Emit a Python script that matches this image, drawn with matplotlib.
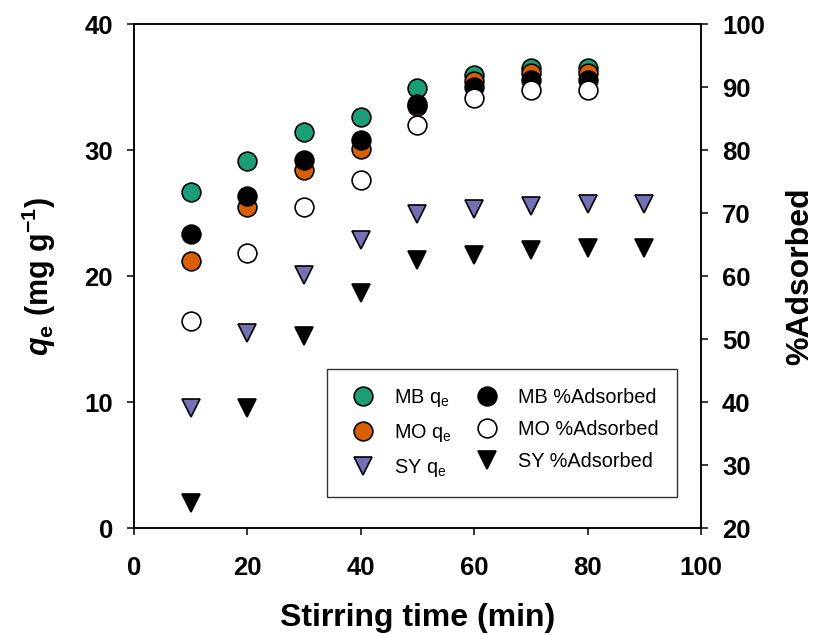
import matplotlib
matplotlib.use("Agg")
import matplotlib.pyplot as plt

plt.rcParams['font.family'] = ['Liberation Sans', 'DejaVu Sans']
plt.rcParams['mathtext.fontset'] = 'custom'
plt.rcParams['mathtext.rm'] = 'Liberation Sans'
plt.rcParams['mathtext.it'] = 'Liberation Sans:italic'
plt.rcParams['mathtext.bf'] = 'Liberation Sans:bold'
plt.rcParams['mathtext.bfit'] = 'Liberation Sans:bold:italic'

time_circ = [10, 20, 30, 40, 50, 60, 70, 80]
time_tri = [10, 20, 30, 40, 50, 60, 70, 80, 90]

mb_qe = [26.7, 29.1, 31.4, 32.6, 34.9, 36.0, 36.5, 36.5]
mo_qe = [21.2, 25.5, 28.4, 30.1, 33.5, 35.5, 36.1, 36.1]
sy_qe = [9.5, 15.5, 20.1, 22.9, 24.9, 25.3, 25.6, 25.7, 25.7]

mb_ads = [66.7, 72.7, 78.5, 81.6, 87.3, 90.0, 91.1, 91.1]
mo_ads = [52.9, 63.6, 71.0, 75.2, 84.0, 88.2, 89.6, 89.6]
sy_ads = [23.9, 39.0, 50.5, 57.3, 62.5, 63.4, 64.1, 64.4, 64.5]

c_green = '#1b9e77'
c_orange = '#d95f02'
c_purple = '#7570b3'

fig = plt.figure(figsize=(8.21, 6.35), dpi=100)
ax = fig.add_axes([0.163, 0.1685, 0.691, 0.7935])
ax2 = ax.twinx()

ms = 13.5
mew = 1.2
h1, = ax.plot(time_circ, mb_qe, 'o', color=c_green, mec='black', ms=ms, mew=mew, label='MB q$_\\mathregular{e}$')
h2, = ax.plot(time_circ, mo_qe, 'o', color=c_orange, mec='black', ms=ms, mew=mew, label='MO q$_\\mathregular{e}$')
h3, = ax.plot(time_tri, sy_qe, 'v', color=c_purple, mec='black', ms=ms, mew=mew, label='SY q$_\\mathregular{e}$')
h4, = ax2.plot(time_circ, mb_ads, 'o', color='black', mec='black', ms=ms, mew=mew, label='MB %Adsorbed')
h5, = ax2.plot(time_circ, mo_ads, 'o', color='white', mec='black', ms=ms, mew=mew, label='MO %Adsorbed')
h6, = ax2.plot(time_tri, sy_ads, 'v', color='black', mec='black', ms=ms, mew=mew, label='SY %Adsorbed')

ax.set_xlim(0, 100)
ax.set_ylim(0, 40)
ax2.set_ylim(20, 100)
ax.set_xticks([0, 20, 40, 60, 80, 100])
ax.set_yticks([0, 10, 20, 30, 40])
ax2.set_yticks([20, 30, 40, 50, 60, 70, 80, 90, 100])

for a in (ax, ax2):
    for s in a.spines.values():
        s.set_linewidth(1.1)
    a.tick_params(direction='out', length=5, width=1.1, labelsize=18.5, pad=10)
    for lab in a.get_xticklabels() + a.get_yticklabels():
        lab.set_fontweight('bold')
ax.tick_params(axis='x', pad=15)

ax.set_xlabel('Stirring time (min)', fontsize=23, fontweight='bold', labelpad=17)
ax.set_ylabel('$\\boldsymbol{q}_\\mathbf{e}$ (mg g$^\\mathbf{-1}$)', fontsize=22, fontweight='bold', labelpad=19)
ax2.set_ylabel('%Adsorbed', fontsize=23, fontweight='bold', rotation=90, labelpad=15)

leg = ax2.legend(handles=[h1, h2, h3, h4, h5, h6], ncol=2, loc='lower left',
                 bbox_to_anchor=(0.340, 0.0615, 0.617, 0.244), mode='expand',
                 borderaxespad=0.0,
                 fontsize=14.3, frameon=True, fancybox=False, edgecolor='black',
                 borderpad=0.9, labelspacing=0.65, handletextpad=0.6, columnspacing=0.8,
                 handlelength=1.9)
leg.get_frame().set_linewidth(1.0)

fig.savefig('out.png', dpi=100)
